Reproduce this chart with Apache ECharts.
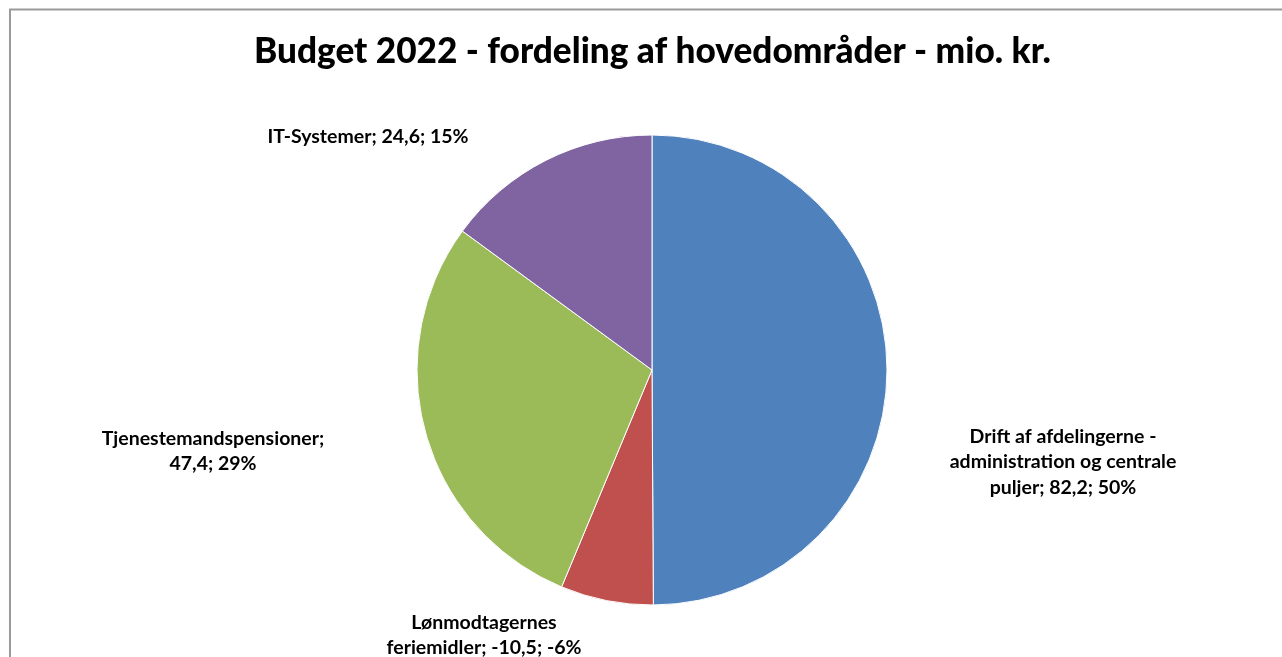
<!DOCTYPE html>
<html>
<head>
<meta charset="utf-8">
<script src="https://cdn.jsdelivr.net/npm/echarts@6/dist/echarts.min.js"></script>
<style>
html,body{margin:0;padding:0;background:#fff;}
#chart{width:1282px;height:657px;}
</style>
</head>
<body>
<div id="chart"></div>
<script>
// ---- data ----
var titleText = 'Budget 2022 - fordeling af hovedområder - mio. kr.';
var categories = [
  'Drift af afdelingerne -\nadministration og centrale\npuljer',
  'Lønmodtagernes\nferiemidler',
  'Tjenestemandspensioner',
  'IT-Systemer'
];
var nameSeparators = ['; ', '; ', ';\n', '; '];
var values = [82.2, -10.5, 47.4, 24.6];
var colors = ['#4F81BD', '#C0504D', '#9BBB59', '#8064A2'];

// label offsets from the pie centre (layout only)
var labelOffsets = [[411, 92], [-168, 265], [-439, 81], [-284, -233]];

var absSum = values.reduce(function (s, v) { return s + Math.abs(v); }, 0);
function fmtNum(v) { return v.toFixed(1).replace('.', ','); }
function fmtPct(v) {
  var p = Math.round(Math.abs(v) / absSum * 100);
  return (v < 0 ? '-' : '') + p + '%';
}

var cx = 652, cy = 370, radius = 235;

var pieData = categories.map(function (c, i) {
  return { name: c, value: Math.abs(values[i]), itemStyle: { color: colors[i] } };
});

var chart = echarts.init(document.getElementById('chart'), null, { renderer: 'canvas' });
chart.setOption({
  animation: false,
  backgroundColor: '#fff',
  graphic: [{
    type: 'rect',
    shape: { x: 10, y: 9.5, width: 1300, height: 700 },
    style: { fill: 'none', stroke: '#9a9a9a', lineWidth: 2 },
    silent: true
  }],
  title: {
    text: titleText,
    left: 249,
    top: 29,
    textStyle: { fontFamily: 'Lato', fontWeight: 900, fontSize: 35.2, color: '#000' }
  },
  series: [{
    type: 'pie',
    center: [cx, cy],
    radius: [0, radius],
    startAngle: 90,
    clockwise: true,
    data: pieData,
    itemStyle: { borderColor: '#fff', borderWidth: 1 },
    label: {
      show: true,
      position: 'outside',
      fontFamily: 'Lato',
      fontWeight: 'bold',
      fontSize: 19.5,
      lineHeight: 25.5,
      color: '#000',
      align: 'center',
      formatter: function (p) {
        var i = p.dataIndex;
        return categories[i] + nameSeparators[i] + fmtNum(values[i]) + '; ' + fmtPct(values[i]);
      }
    },
    labelLine: { show: false },
    labelLayout: function (params) {
      var o = labelOffsets[params.dataIndex];
      return { x: cx + o[0], y: cy + o[1], align: 'center', verticalAlign: 'middle' };
    },
    emphasis: { disabled: true }
  }]
});
</script>
</body>
</html>
